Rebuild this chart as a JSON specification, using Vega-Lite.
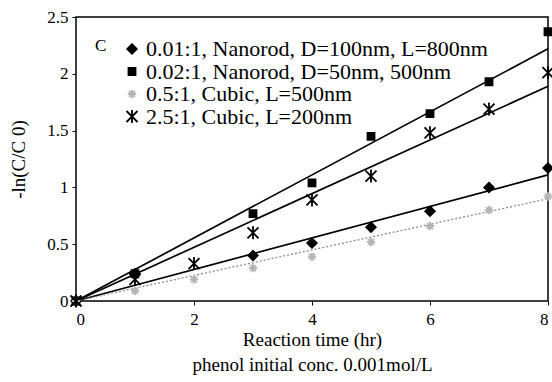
{
  "$schema": "https://vega.github.io/schema/vega-lite/v6.json",
  "width": 472,
  "height": 284,
  "autosize": {"type": "none"},
  "padding": {"left": 76, "top": 17, "right": 4, "bottom": 81},
  "background": "white",
  "config": {
    "font": "Liberation Serif",
    "view": {"stroke": "black", "strokeWidth": 1.5},
    "axis": {
      "labelFont": "Liberation Serif",
      "titleFont": "Liberation Serif",
      "labelFontSize": 17,
      "titleFontSize": 19,
      "titleFontWeight": "normal",
      "labelColor": "black",
      "titleColor": "black",
      "tickColor": "black",
      "tickSize": 4,
      "grid": false,
      "domain": false
    },
    "legend": {
      "labelFont": "Liberation Serif",
      "titleFont": "Liberation Serif",
      "orient": "none", "legendX": 19, "legendY": 21,
      "titleOrient": "left", "titleAnchor": "start", "titleFontSize": 17, "titleFontWeight": "normal",
      "titleColor": "black", "titleBaseline": "top", "titlePadding": 14,
      "labelFontSize": 22, "labelColor": "black", "labelLimit": 0, "labelOffset": 3,
      "rowPadding": 0.5, "symbolStrokeWidth": 1.8, "symbolSize": 100
    }
  },
  "datasets": {
    "points": [
      {"series": "0.01:1, Nanorod, D=100nm, L=800nm", "t": 0, "v": 0},
      {"series": "0.01:1, Nanorod, D=100nm, L=800nm", "t": 1, "v": 0.24},
      {"series": "0.01:1, Nanorod, D=100nm, L=800nm", "t": 3, "v": 0.40},
      {"series": "0.01:1, Nanorod, D=100nm, L=800nm", "t": 4, "v": 0.51},
      {"series": "0.01:1, Nanorod, D=100nm, L=800nm", "t": 5, "v": 0.65},
      {"series": "0.01:1, Nanorod, D=100nm, L=800nm", "t": 6, "v": 0.79},
      {"series": "0.01:1, Nanorod, D=100nm, L=800nm", "t": 7, "v": 1.0},
      {"series": "0.01:1, Nanorod, D=100nm, L=800nm", "t": 8, "v": 1.17},
      {"series": "0.02:1, Nanorod, D=50nm, 500nm", "t": 0, "v": 0},
      {"series": "0.02:1, Nanorod, D=50nm, 500nm", "t": 1, "v": 0.24},
      {"series": "0.02:1, Nanorod, D=50nm, 500nm", "t": 3, "v": 0.77},
      {"series": "0.02:1, Nanorod, D=50nm, 500nm", "t": 4, "v": 1.04},
      {"series": "0.02:1, Nanorod, D=50nm, 500nm", "t": 5, "v": 1.45},
      {"series": "0.02:1, Nanorod, D=50nm, 500nm", "t": 6, "v": 1.65},
      {"series": "0.02:1, Nanorod, D=50nm, 500nm", "t": 7, "v": 1.93},
      {"series": "0.02:1, Nanorod, D=50nm, 500nm", "t": 8, "v": 2.37},
      {"series": "0.5:1, Cubic, L=500nm", "t": 0, "v": 0},
      {"series": "0.5:1, Cubic, L=500nm", "t": 1, "v": 0.09},
      {"series": "0.5:1, Cubic, L=500nm", "t": 2, "v": 0.19},
      {"series": "0.5:1, Cubic, L=500nm", "t": 3, "v": 0.29},
      {"series": "0.5:1, Cubic, L=500nm", "t": 4, "v": 0.39},
      {"series": "0.5:1, Cubic, L=500nm", "t": 5, "v": 0.52},
      {"series": "0.5:1, Cubic, L=500nm", "t": 6, "v": 0.66},
      {"series": "0.5:1, Cubic, L=500nm", "t": 7, "v": 0.80},
      {"series": "0.5:1, Cubic, L=500nm", "t": 8, "v": 0.92},
      {"series": "2.5:1, Cubic, L=200nm", "t": 0, "v": 0},
      {"series": "2.5:1, Cubic, L=200nm", "t": 1, "v": 0.19},
      {"series": "2.5:1, Cubic, L=200nm", "t": 2, "v": 0.33},
      {"series": "2.5:1, Cubic, L=200nm", "t": 3, "v": 0.60},
      {"series": "2.5:1, Cubic, L=200nm", "t": 4, "v": 0.89},
      {"series": "2.5:1, Cubic, L=200nm", "t": 5, "v": 1.10},
      {"series": "2.5:1, Cubic, L=200nm", "t": 6, "v": 1.48},
      {"series": "2.5:1, Cubic, L=200nm", "t": 7, "v": 1.69},
      {"series": "2.5:1, Cubic, L=200nm", "t": 8, "v": 2.01}
    ],
    "fits": [
      {"series": "0.01:1, Nanorod, D=100nm, L=800nm", "t": 0, "v": 0, "style": "solid"},
      {"series": "0.01:1, Nanorod, D=100nm, L=800nm", "t": 8, "v": 1.11, "style": "solid"},
      {"series": "0.02:1, Nanorod, D=50nm, 500nm", "t": 0, "v": 0, "style": "solid"},
      {"series": "0.02:1, Nanorod, D=50nm, 500nm", "t": 8, "v": 2.22, "style": "solid"},
      {"series": "0.5:1, Cubic, L=500nm", "t": 0, "v": 0, "style": "dotted"},
      {"series": "0.5:1, Cubic, L=500nm", "t": 8, "v": 0.90, "style": "dotted"},
      {"series": "2.5:1, Cubic, L=200nm", "t": 0, "v": 0, "style": "solid"},
      {"series": "2.5:1, Cubic, L=200nm", "t": 8, "v": 1.89, "style": "solid"}
    ]
  },
  "layer": [
    {
      "data": {"name": "fits"},
      "transform": [{"filter": "datum.style == 'solid'"}],
      "mark": {"type": "line", "color": "black", "strokeWidth": 1.7},
      "encoding": {
        "x": {"field": "t", "type": "quantitative"},
        "y": {"field": "v", "type": "quantitative"},
        "detail": {"field": "series"}
      }
    },
    {
      "data": {"name": "fits"},
      "transform": [{"filter": "datum.style == 'dotted'"}],
      "mark": {"type": "line", "color": "#8c8c8c", "strokeWidth": 1.3, "strokeDash": [2, 2]},
      "encoding": {
        "x": {"field": "t", "type": "quantitative"},
        "y": {"field": "v", "type": "quantitative"},
        "detail": {"field": "series"}
      }
    },
    {
      "data": {"name": "points"},
      "mark": {"type": "point", "filled": true, "opacity": 1, "strokeWidth": 1.8, "size": 100},
      "encoding": {
        "x": {
          "field": "t", "type": "quantitative",
          "scale": {"domain": [0, 8], "nice": false},
          "axis": {
            "values": [0, 2, 4, 6, 8],
            "format": "~g",
            "title": ["Reaction time (hr)", "phenol initial conc. 0.001mol/L"],
            "titleLineHeight": 25,
            "titlePadding": 3,
            "labelPadding": 6
          }
        },
        "y": {
          "field": "v", "type": "quantitative",
          "scale": {"domain": [0, 2.5], "nice": false},
          "axis": {
            "values": [0, 0.5, 1, 1.5, 2, 2.5],
            "format": "~g",
            "title": "-ln(C/C 0)",
            "titlePadding": 18,
            "labelPadding": 4
          }
        },
        "shape": {
          "field": "series", "type": "nominal",
          "scale": {
            "domain": ["0.01:1, Nanorod, D=100nm, L=800nm", "0.02:1, Nanorod, D=50nm, 500nm", "0.5:1, Cubic, L=500nm", "2.5:1, Cubic, L=200nm"],
            "range": ["M0,-0.95L0.95,0L0,0.95L-0.95,0Z", "M-0.7,-0.7L0.7,-0.7L0.7,0.7L-0.7,0.7Z", "M-0.6,-0.6L0.6,0.6M-0.6,0.6L0.6,-0.6M0,-0.85L0,0.85M-0.85,0L0.85,0", "M-1.1,-1.1L1.1,1.1M-1.1,1.1L1.1,-1.1M0,-1.3L0,1.3"]
          },
          "legend": {"title": "C"}
        },
        "color": {
          "field": "series", "type": "nominal",
          "scale": {
            "domain": ["0.01:1, Nanorod, D=100nm, L=800nm", "0.02:1, Nanorod, D=50nm, 500nm", "0.5:1, Cubic, L=500nm", "2.5:1, Cubic, L=200nm"],
            "range": ["black", "black", "#b4b4b4", "black"]
          },
          "legend": {"title": "C"}
        },
        "stroke": {
          "field": "series", "type": "nominal",
          "scale": {
            "domain": ["0.01:1, Nanorod, D=100nm, L=800nm", "0.02:1, Nanorod, D=50nm, 500nm", "0.5:1, Cubic, L=500nm", "2.5:1, Cubic, L=200nm"],
            "range": ["black", "black", "#b4b4b4", "black"]
          },
          "legend": {"title": "C"}
        }
      }
    }
  ]
}
